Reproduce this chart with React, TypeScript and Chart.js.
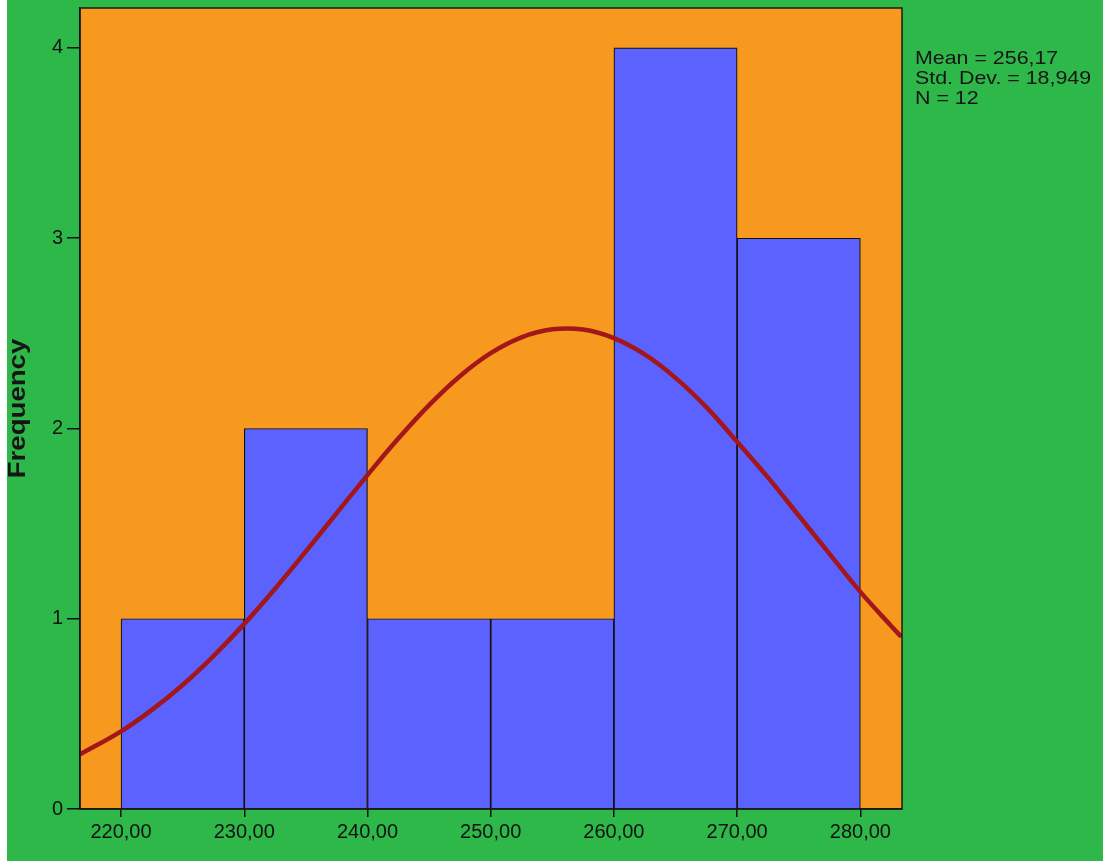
import React, { useEffect, useRef } from "react";
import { Chart, registerables } from "chart.js";

Chart.register(...registerables);

// Histogram bins (bin centers) and frequencies
const binCenters = [225, 235, 245, 255, 265, 275];
const frequencies = [1, 2, 1, 1, 4, 3];

// Normal curve
const curveX = [216.67, 220, 222.5, 225, 227.5, 230, 232.5, 235, 237.5, 240, 242.5, 245, 247.5, 250, 252.5, 255, 257.5, 260, 262.5, 265, 267.5, 270, 272.5, 275, 277.5, 280, 282.5, 283.33];
const curveY = [0.287, 0.408, 0.521, 0.652, 0.804, 0.973, 1.158, 1.354, 1.555, 1.755, 1.947, 2.123, 2.275, 2.396, 2.479, 2.521, 2.52, 2.475, 2.389, 2.266, 2.112, 1.93, 1.743, 1.542, 1.341, 1.141, 0.962, 0.905];

const xTicks = [220, 230, 240, 250, 260, 270, 280];
const yTicks = [0, 1, 2, 3, 4];
const statsLines = ["Mean = 256,17", "Std. Dev. = 18,949", "N = 12"];
const yTitle = "Frequency";

const X_MIN = 216.67;
const X_MAX = 283.38;
const Y_MAX = 4.21;
const FONT = "'Liberation Sans', Arial, sans-serif";

export default function App() {
  const ref = useRef<HTMLCanvasElement | null>(null);

  useEffect(() => {
    document.body.style.margin = "0";
    const canvas = ref.current!;
    const bgPlugin = {
      id: "bgPlugin",
      beforeDraw(chart: any) {
        const { ctx, chartArea } = chart;
        ctx.save();
        ctx.fillStyle = "#ffffff";
        ctx.fillRect(0, 0, chart.width, chart.height);
        ctx.fillStyle = "#2fb84a";
        ctx.fillRect(7, 0, chart.width - 7, chart.height);
        ctx.fillStyle = "#f7991f";
        ctx.fillRect(chartArea.left, chartArea.top, chartArea.right - chartArea.left, chartArea.bottom - chartArea.top);
        ctx.restore();
      },
      afterDraw(chart: any) {
        const { ctx, chartArea } = chart;
        ctx.save();
        ctx.strokeStyle = "#1a1a1a";
        ctx.lineWidth = 1.5;
        ctx.strokeRect(chartArea.left, chartArea.top, chartArea.right - chartArea.left, chartArea.bottom - chartArea.top);
        ctx.fillStyle = "#151515";
        ctx.textBaseline = "alphabetic";
        ctx.textAlign = "left";
        statsLines.forEach((s, i) => {
          ctx.save();
          ctx.translate(chartArea.right + 13, 64 + i * 20);
          ctx.scale(1.15, 1);
          ctx.font = `18.6px ${FONT}`;
          ctx.fillText(s, 0, 0);
          ctx.restore();
        });
        ctx.save();
        ctx.translate(25, (chartArea.top + chartArea.bottom) / 2);
        ctx.rotate(-Math.PI / 2);
        ctx.scale(1.2, 1);
        ctx.font = `bold 23px ${FONT}`;
        ctx.textAlign = "center";
        ctx.fillText(yTitle, 0, 0);
        ctx.restore();
        ctx.restore();
      },
    };

    const chart = new Chart(canvas, {
      type: "bar",
      data: {
        datasets: [
          {
            type: "line",
            data: curveX.map((x, i) => ({ x, y: curveY[i] })),
            borderColor: "#a3161b",
            borderWidth: 4.5,
            pointRadius: 0,
            fill: false,
            tension: 0.4,
            order: 0,
          } as any,
          {
            type: "bar",
            data: binCenters.map((x, i) => ({ x, y: frequencies[i] })),
            backgroundColor: "#5c62fe",
            borderColor: "#111111",
            borderWidth: 1.2,
            barPercentage: 1,
            categoryPercentage: 1,
            order: 1,
          } as any,
        ],
      },
      options: {
        animation: false,
        responsive: false,
        layout: { padding: { top: 8, right: 201, left: 0, bottom: 0 } },
        plugins: { legend: { display: false }, tooltip: { enabled: false } },
        scales: {
          x: {
            type: "linear",
            min: X_MIN,
            max: X_MAX,
            offset: false,
            afterFit(scale: any) {
              scale.height = 52;
              scale.paddingLeft = 0;
              scale.paddingRight = 0;
            },
            afterBuildTicks(scale: any) {
              scale.ticks = xTicks.map((v) => ({ value: v }));
            },
            ticks: {
              color: "#111111",
              font: { size: 20, family: FONT },
              padding: 3,
              maxRotation: 0,
              autoSkip: false,
              callback: (v: any) => Number(v).toFixed(2).replace(".", ","),
            },
            grid: { offset: false, drawOnChartArea: false, drawTicks: true, tickLength: 8, color: "#111111", lineWidth: 1.5 },
            border: { display: true, color: "#111111", width: 1.5 },
          },
          y: {
            type: "linear",
            min: 0,
            max: Y_MAX,
            afterFit(scale: any) {
              scale.width = 80;
              scale.paddingTop = 0;
              scale.paddingBottom = 0;
            },
            afterBuildTicks(scale: any) {
              scale.ticks = yTicks.map((v) => ({ value: v }));
            },
            ticks: {
              color: "#111111",
              font: { size: 20, family: FONT },
              padding: 4,
              autoSkip: false,
            },
            grid: { offset: false, drawOnChartArea: false, drawTicks: true, tickLength: 13, color: "#111111", lineWidth: 1.5 },
            border: { display: true, color: "#111111", width: 1.5 },
          },
        },
      } as any,
      plugins: [bgPlugin],
    });
    return () => chart.destroy();
  }, []);

  return (
    <div style={{ position: "absolute", left: 0, top: 0, width: 1103, height: 861 }}>
      <canvas ref={ref} width={1103} height={861} style={{ display: "block", width: 1103, height: 861 }} />
    </div>
  );
}
